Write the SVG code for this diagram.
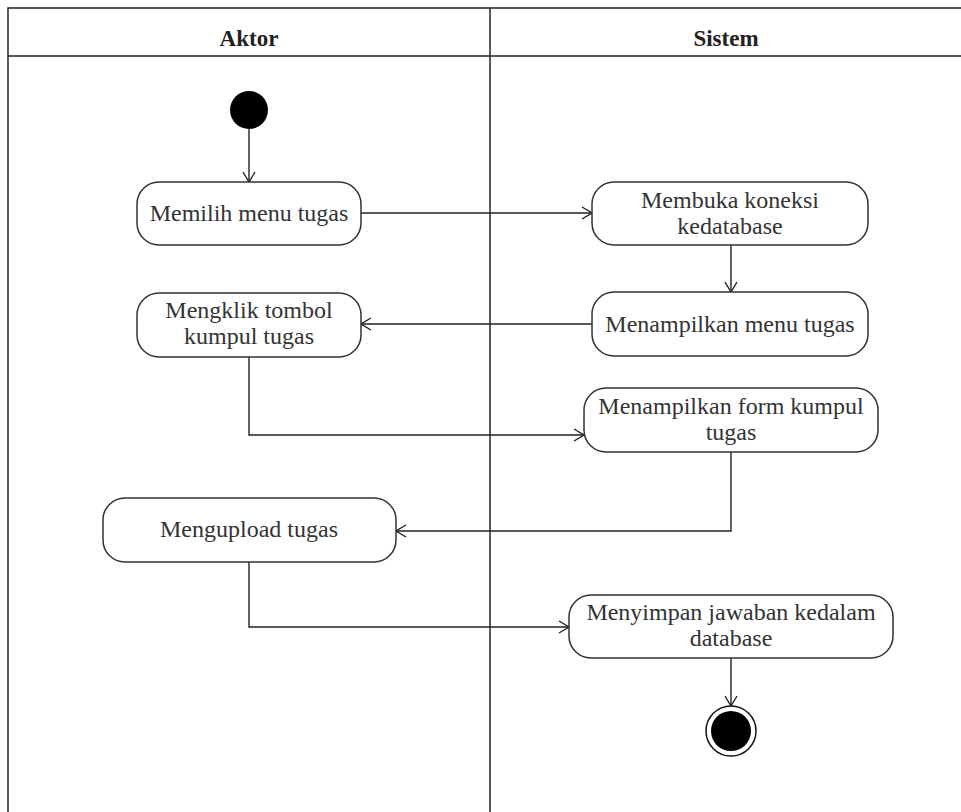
<svg xmlns="http://www.w3.org/2000/svg" width="961" height="812" viewBox="0 0 961 812">
  <style>
    .lane { fill: none; stroke: #222; stroke-width: 1.5; }
    .node { fill: #fff; stroke: #333; stroke-width: 1.5; }
    .lbl { font-size: 24px; fill: #333; text-anchor: middle; }
    .hdr { font-size: 23px; font-weight: bold; fill: #222; text-anchor: middle; }
    .flow { fill: none; stroke: #222; stroke-width: 1.4; marker-end: url(#open); }
  </style>
  <defs>
    <marker id="open" viewBox="0 0 12 14" refX="11" refY="7" markerWidth="12" markerHeight="14" markerUnits="userSpaceOnUse" orient="auto">
      <path d="M1,1 L11,7 L1,13" fill="none" stroke="#222" stroke-width="1.4"/>
    </marker>
  </defs>
  <rect width="961" height="812" fill="#fff"/>

  <g font-family="Liberation Serif, DejaVu Serif, serif">
  <!-- swimlanes -->
  <g id="lanes">
    <path class="lane" d="M8,812 V8 H961 M8,56 H961 M490,8 V812"/>
    <text class="hdr" x="249" y="46">Aktor</text>
    <text class="hdr" x="726" y="46">Sistem</text>
  </g>

  <!-- connectors -->
  <g id="connectors">
    <path class="flow" d="M249,129 V182"/>
    <path class="flow" d="M361,213 H592"/>
    <path class="flow" d="M731,245 V292"/>
    <path class="flow" d="M592,324 H361"/>
    <path class="flow" d="M249,357 V435 H584"/>
    <path class="flow" d="M731,452 V531 H396"/>
    <path class="flow" d="M249,562 V627 H569"/>
    <path class="flow" d="M731,658 V706"/>
  </g>

  <g id="start">
    <circle cx="249" cy="110" r="19" fill="#000"/>
  </g>

  <g id="memilih-menu">
    <rect class="node" x="137" y="182" width="224" height="63" rx="22"/>
    <text class="lbl" x="249" y="221">Memilih menu tugas</text>
  </g>

  <g id="membuka-koneksi">
    <rect class="node" x="592" y="182" width="276" height="63" rx="22"/>
    <text class="lbl" x="730" y="208">Membuka koneksi</text>
    <text class="lbl" x="730" y="234">kedatabase</text>
  </g>

  <g id="mengklik-tombol">
    <rect class="node" x="137" y="293" width="224" height="64" rx="22"/>
    <text class="lbl" x="249" y="318">Mengklik tombol</text>
    <text class="lbl" x="249" y="344">kumpul tugas</text>
  </g>

  <g id="menampilkan-menu">
    <rect class="node" x="592" y="292" width="276" height="64" rx="22"/>
    <text class="lbl" x="730" y="332">Menampilkan menu tugas</text>
  </g>

  <g id="menampilkan-form">
    <rect class="node" x="584" y="388" width="294" height="64" rx="22"/>
    <text class="lbl" x="731" y="414">Menampilkan form kumpul</text>
    <text class="lbl" x="731" y="440">tugas</text>
  </g>

  <g id="mengupload">
    <rect class="node" x="103" y="498" width="293" height="64" rx="22"/>
    <text class="lbl" x="249" y="537">Mengupload tugas</text>
  </g>

  <g id="menyimpan">
    <rect class="node" x="569" y="595" width="324" height="63" rx="22"/>
    <text class="lbl" x="731" y="620">Menyimpan jawaban kedalam</text>
    <text class="lbl" x="731" y="646">database</text>
  </g>

  <g id="end">
    <circle cx="731" cy="731" r="25" fill="#fff" stroke="#111" stroke-width="1.5"/>
    <circle cx="731" cy="731" r="20" fill="#000"/>
  </g>
  </g>
</svg>
